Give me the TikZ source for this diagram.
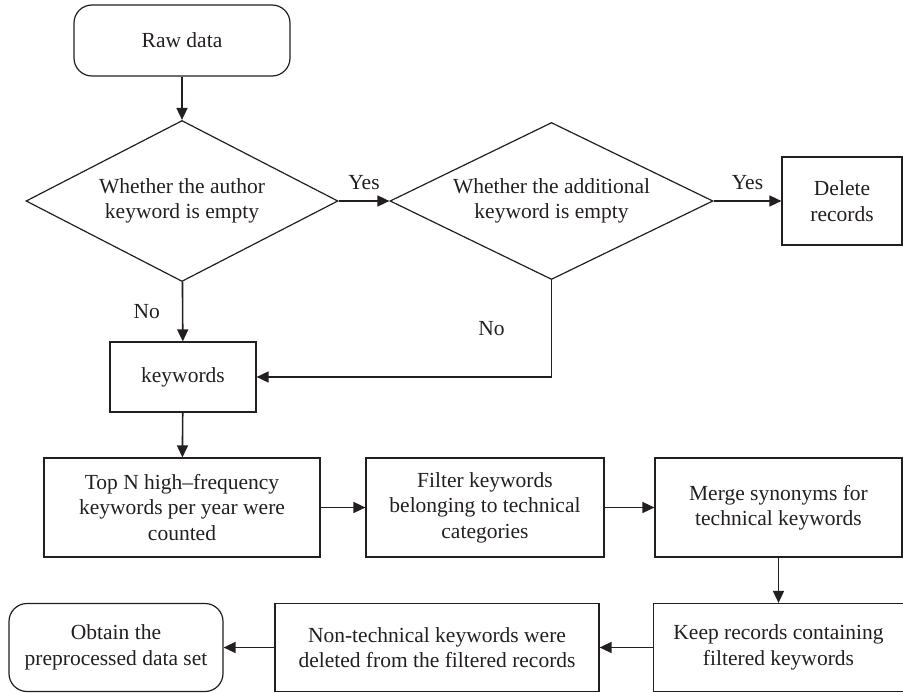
\documentclass[tikz,border=0pt]{standalone}
\usepackage{fontspec}
\setmainfont{Liberation Serif}
\usetikzlibrary{shapes}
\usetikzlibrary{shapes.geometric}
\usetikzlibrary{positioning}
\usetikzlibrary{arrows.meta}
\definecolor{ink}{HTML}{231F20}
\tikzset{
    mynodet/.style = {rectangle, rounded corners=18pt, line width=1.2pt, draw=ink, align=center, inner sep=0, text=ink},
    mynoded/.style = {diamond, line width=1.2pt, draw=ink, align=center, inner sep=0, text=ink},
    mynodeb/.style = {rectangle, line width=1.2pt, draw=ink, align=center, inner sep=0, text=ink},
    lbl/.style = {inner sep=0, text=ink},
    edgea/.style = {-{Triangle[length=12pt,width=11pt]}, line width=1.6pt, ink},
    every picture/.style={font issue=\fontsize{21.5}{25.5}},
    font issue/.style={execute at begin picture={#1\selectfont}}
}

\begin{document}
\begin{tikzpicture}[x=1pt,y=-1pt]
\useasboundingbox (0,0) rectangle (903,693);
\node[mynodet, minimum width=216pt, minimum height=71pt] at (182.0,  40.5) (raw) {Raw data};
\node[mynoded, shape aspect=1.94, minimum width=312pt, minimum height=161pt] at (182.0, 201.0) (dec1) {Whether the author\\keyword is empty};
\node[mynoded, shape aspect=2.06, minimum width=323pt, minimum height=157pt] at (551.5, 201.0) (dec2) {Whether the additional\\keyword is empty};
\node[mynodeb, minimum width=120pt, minimum height=88pt] at (842.0, 201.0) (delete) {Delete\\records};
\node[mynodeb, minimum width=146pt, minimum height=70pt] at (183.0, 377.0) (keywords) {keywords};
\node[mynodeb, minimum width=276pt, minimum height=99pt] at (182.0, 507.5) (topn) {Top N high--frequency\\keywords per year were\\counted};
\node[mynodeb, minimum width=238pt, minimum height=99pt] at (485.0, 507.5) (filter) {Filter keywords\\belonging to technical\\categories};
\node[mynodeb, minimum width=247pt, minimum height=99pt] at (778.5, 507.5) (merge) {Merge synonyms for\\technical keywords};
\node[mynodeb, minimum width=250pt, minimum height=88pt] at (778.5, 647.5) (keep) {Keep records containing\\filtered keywords};
\node[mynodeb, minimum width=324pt, minimum height=88pt] at (437.0, 647.5) (nontech) {Non-technical keywords were\\deleted from the filtered records};
\node[mynodet, minimum width=214pt, minimum height=88pt] at (116.0, 647.5) (obtain) {Obtain the\\preprocessed data set};

\draw[edgea] (raw) edge (dec1);
\draw[edgea] (dec1) edge node[lbl, above=10pt] {Yes} (dec2);
\draw[edgea] (dec2) edge node[lbl, above=10pt] {Yes} (delete);
\draw[edgea] (dec1) edge node[lbl, left=22pt] {No} (keywords);
\draw[edgea] (dec2.south) |- node[lbl, pos=0.25, left=46pt] {No} (keywords.east);
\draw[edgea] (keywords) edge (topn);
\draw[edgea] (topn) edge (filter);
\draw[edgea] (filter) edge (merge);
\draw[edgea] (merge) edge (keep);
\draw[edgea] (keep) edge (nontech);
\draw[edgea] (nontech) edge (obtain);

\end{tikzpicture}
\end{document}
